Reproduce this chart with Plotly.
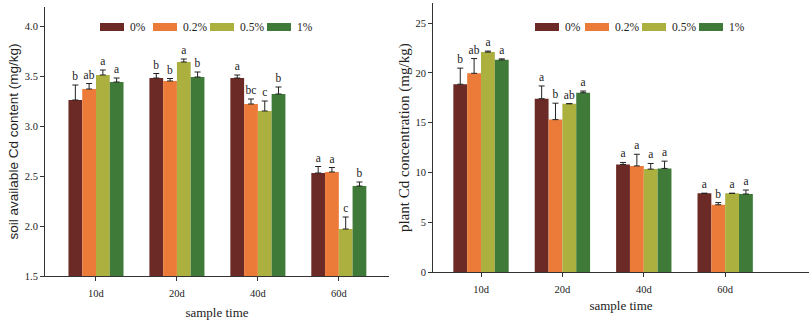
import plotly.graph_objects as go

times = ["10d", "20d", "40d", "60d"]
series = ["0%", "0.2%", "0.5%", "1%"]
colors = ["#6B2A25", "#EC7A38", "#ABB03E", "#3F7A38"]

# soil available Cd content (mg/kg)
soil_vals = [
    [3.26, 3.48, 3.48, 2.53],
    [3.37, 3.45, 3.22, 2.54],
    [3.51, 3.64, 3.15, 1.97],
    [3.44, 3.49, 3.32, 2.40],
]
soil_err = [
    [0.15, 0.045, 0.03, 0.065],
    [0.055, 0.025, 0.05, 0.045],
    [0.05, 0.03, 0.10, 0.12],
    [0.04, 0.05, 0.07, 0.04],
]
soil_letters = [
    ["b", "b", "a", "a"],
    ["ab", "b", "bc", "a"],
    ["a", "a", "c", "c"],
    ["a", "b", "b", "b"],
]

# plant Cd concentration (mg/kg)
plant_vals = [
    [18.85, 17.4, 10.8, 7.9],
    [19.95, 15.3, 10.65, 6.75],
    [22.08, 16.9, 10.33, 7.9],
    [21.3, 18.0, 10.4, 7.83],
]
plant_err = [
    [1.62, 1.28, 0.2, 0.0],
    [1.48, 1.65, 1.17, 0.22],
    [0.1, 0.0, 0.57, 0.0],
    [0.1, 0.17, 0.73, 0.4],
]
plant_letters = [
    ["b", "a", "a", "a"],
    ["ab", "b", "a", "b"],
    ["a", "ab", "a", "a"],
    ["a", "a", "a", "a"],
]

W, H = 809, 320
SERIF = "Liberation Serif, Times New Roman, serif"
SANS = "Liberation Sans, Arial, sans-serif"
TXT = "#222222"

# legend swatch left edges (px) for each panel
legend_left_x = [100, 153, 210, 267]
legend_right_x = [535, 585, 642, 699]
legend_y = 27
swatch_w, swatch_h = 24, 8

fig = go.Figure()


def add_panel(vals, errs, letters, xa, ya):
    for i, name in enumerate(series):
        fig.add_trace(go.Bar(
            x=times, y=vals[i], name=name, marker=dict(color=colors[i], line=dict(width=0)),
            offsetgroup=str(i), xaxis=xa, yaxis=ya, showlegend=False,
            error_y=dict(type="data", array=errs[i], arrayminus=[0] * 4, symmetric=False,
                         color=TXT, thickness=1, width=3),
        ))
        tops = [v + e for v, e in zip(vals[i], errs[i])]
        fig.add_trace(go.Bar(
            x=times, y=tops, offsetgroup=str(i), xaxis=xa, yaxis=ya, showlegend=False,
            marker=dict(color="rgba(0,0,0,0)", line=dict(width=0)),
            text=letters[i], textposition="outside", cliponaxis=False, constraintext="none",
            textfont=dict(family=SERIF, size=11.5, color=TXT), hoverinfo="skip",
        ))


add_panel(soil_vals, soil_err, soil_letters, "x", "y")
add_panel(plant_vals, plant_err, plant_letters, "x2", "y2")

# legends (swatch + label), drawn in paper coordinates
shapes, annos = [], []
for xs in (legend_left_x, legend_right_x):
    for i, name in enumerate(series):
        x0 = xs[i] / W
        x1 = (xs[i] + swatch_w) / W
        y0 = (H - legend_y - swatch_h / 2) / H
        y1 = (H - legend_y + swatch_h / 2) / H
        shapes.append(dict(type="rect", xref="paper", yref="paper", x0=x0, x1=x1, y0=y0, y1=y1,
                           fillcolor=colors[i], line=dict(width=0)))
        annos.append(dict(xref="paper", yref="paper", x=(xs[i] + swatch_w + 4) / W,
                          y=(H - legend_y) / H, text=name, showarrow=False,
                          xanchor="left", yanchor="middle",
                          font=dict(family=SERIF, size=11.5, color=TXT)))

axis_common = dict(showline=True, linecolor="#333333", linewidth=1, showgrid=False, zeroline=False,
                   ticks="outside", ticklen=4, tickcolor="#333333", automargin=False,
                   tickfont=dict(family=SERIF, size=10.5, color=TXT))

fig.update_layout(
    width=W, height=H, margin=dict(l=0, r=0, t=0, b=0),
    paper_bgcolor="white", plot_bgcolor="white", showlegend=False,
    barmode="group", bargap=0.32, bargroupgap=0,
    xaxis=dict(domain=[45 / W, 389 / W], range=[-0.63, 3.62], anchor="y", **axis_common,
               ticklabelstandoff=3,
               title=dict(text="sample time", font=dict(family=SERIF, size=13, color=TXT), standoff=10)),
    yaxis=dict(domain=[(H - 276) / H, (H - 7) / H], range=[1.5, 4.19], dtick=0.5, tickformat=".1f",
               anchor="x", **axis_common,
               title=dict(text="soil available Cd content (mg/kg)",
                          font=dict(family=SANS, size=13.5, color=TXT), standoff=3)),
    xaxis2=dict(domain=[433 / W, 1.0], range=[-0.59, 4.03], anchor="y2", **axis_common,
                ticklabelstandoff=3,
                title=dict(text="sample time", font=dict(family=SERIF, size=13, color=TXT), standoff=7)),
    yaxis2=dict(domain=[(H - 272) / H, (H - 3.3) / H], range=[0, 26.98], dtick=5, anchor="x2", **axis_common,
                title=dict(text="plant Cd concentration (mg/kg)",
                           font=dict(family=SERIF, size=15, color=TXT), standoff=2)),
    shapes=shapes,
    annotations=annos,
)

fig.write_html("out.html", post_script="document.body.style.margin='0';",
               config={"displayModeBar": False})
